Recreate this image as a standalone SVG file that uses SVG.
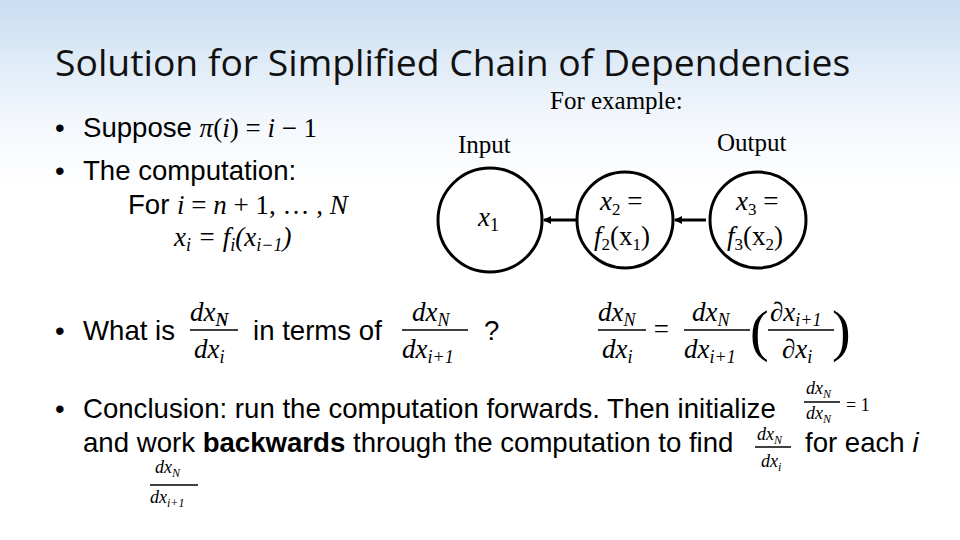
<svg xmlns="http://www.w3.org/2000/svg" width="960" height="540" viewBox="0 0 960 540">
<defs>
<linearGradient id="bg" x1="0" y1="0" x2="0" y2="1">
<stop offset="0" stop-color="#c9def2"/><stop offset="0.22" stop-color="#f3f7fc"/><stop offset="0.35" stop-color="#ffffff"/>
</linearGradient>
<marker id="ah" markerWidth="8" markerHeight="8" refX="7" refY="4" orient="auto" markerUnits="userSpaceOnUse"><path d="M0,0 L8,4 L0,8 z" fill="#000"/></marker>
<style>
.s{font-family:"Liberation Sans",Arial,sans-serif;font-size:27.6px;fill:#000}
.m{font-family:"Liberation Serif","Times New Roman",serif;font-style:italic;font-size:27px;fill:#000}
.r{font-family:"Liberation Serif","Times New Roman",serif;font-size:27px;fill:#000}
.ms{font-family:"Liberation Serif",serif;font-style:italic;font-size:18px}
.c{fill:#fff;stroke:#000;stroke-width:3}
.fl{stroke:#000;stroke-width:1.5}
</style>
</defs>
<rect width="960" height="540" fill="url(#bg)"/>
<text x="55" y="76" style="font-family:'Open Sans','Noto Sans',sans-serif;font-size:37.3px;fill:#111">Solution for Simplified Chain of Dependencies</text>
<text x="550" y="109" class="r" style="font-size:25px">For example:</text>
<text x="458" y="153" class="r" style="font-size:25px">Input</text>
<text x="717" y="151" class="r" style="font-size:25px">Output</text>
<g class="s">
<text x="55" y="137">•</text><text x="83" y="137">Suppose <tspan class="m">π</tspan><tspan class="r">(</tspan><tspan class="m">i</tspan><tspan class="r">) = </tspan><tspan class="m">i</tspan><tspan class="r"> − 1</tspan></text>
<text x="55" y="180">•</text><text x="83" y="180">The computation:</text>
<text x="128" y="214">For <tspan class="m">i</tspan><tspan class="r"> = </tspan><tspan class="m">n</tspan><tspan class="r"> + 1, … , </tspan><tspan class="m">N</tspan></text>
<text x="174" y="246" class="m">x<tspan font-size="18" dy="5">i</tspan><tspan class="r" dy="-5"> = </tspan>f<tspan font-size="18" dy="5">i</tspan><tspan class="r" dy="-5">(x</tspan><tspan font-size="18" dy="5">i−1</tspan><tspan class="r" dy="-5">)</tspan></text>
<text x="55" y="340">•</text><text x="83" y="340">What is</text>
<text x="253" y="340">in terms of</text>
<text x="484" y="340">?</text>
<text x="55" y="418">•</text><text x="83" y="418">Conclusion: run the computation forwards. Then initialize</text>
<text x="83" y="452">and work <tspan font-weight="bold">backwards</tspan> through the computation to find</text>
<text x="805" y="452">for each <tspan font-style="italic">i</tspan></text>
</g>
<g class="m">
<text x="190" y="321">dx<tspan font-size="18" dy="5" font-weight="bold">N</tspan></text>
<line class="fl" x1="190" y1="330" x2="238" y2="330"/>
<text x="194" y="358">dx<tspan font-size="18" dy="5">i</tspan></text>
<text x="412" y="321">dx<tspan font-size="18" dy="5">N</tspan></text>
<line class="fl" x1="402" y1="330" x2="468" y2="330"/>
<text x="402" y="358">dx<tspan font-size="18" dy="5">i+1</tspan></text>
<text x="598" y="321">dx<tspan font-size="18" dy="5">N</tspan></text>
<line class="fl" x1="598" y1="330" x2="646" y2="330"/>
<text x="602" y="358">dx<tspan font-size="18" dy="5">i</tspan></text>
<text x="652" y="338" class="r">=</text>
<text x="692" y="321">dx<tspan font-size="18" dy="5">N</tspan></text>
<line class="fl" x1="684" y1="330" x2="750" y2="330"/>
<text x="684" y="358">dx<tspan font-size="18" dy="5">i+1</tspan></text>
<text x="750" y="350" class="r" style="font-size:56px;font-style:normal">(</text>
<text x="770" y="321">∂x<tspan font-size="18" dy="5">i+1</tspan></text>
<line class="fl" x1="768" y1="330" x2="834" y2="330"/>
<text x="782" y="358">∂x<tspan font-size="18" dy="5">i</tspan></text>
<text x="832" y="350" class="r" style="font-size:56px;font-style:normal">)</text>
</g>
<g class="ms">
<text x="806" y="394">dx<tspan font-size="12" dy="4">N</tspan></text>
<line class="fl" x1="804" y1="402" x2="840" y2="402" stroke-width="1"/>
<text x="806" y="419">dx<tspan font-size="12" dy="4">N</tspan></text>
<text x="846" y="411" font-style="normal">= 1</text>
<text x="757" y="440">dx<tspan font-size="12" dy="4">N</tspan></text>
<line class="fl" x1="755" y1="447" x2="791" y2="447" stroke-width="1"/>
<text x="761" y="467">dx<tspan font-size="12" dy="4">i</tspan></text>
<text x="155" y="473">dx<tspan font-size="12" dy="4">N</tspan></text>
<line class="fl" x1="150" y1="485" x2="198" y2="485" stroke-width="1"/>
<text x="150" y="503">dx<tspan font-size="12" dy="4">i+1</tspan></text>
</g>
<g id="connectors" stroke="#000" stroke-width="3">
<line x1="577" y1="220" x2="544" y2="220" marker-end="url(#ah)"/>
<line x1="706" y1="220" x2="675" y2="220" marker-end="url(#ah)"/>
</g>
<g id="n1"><circle class="c" cx="490" cy="220" r="52"/><text x="478" y="226" class="m">x<tspan font-size="18" dy="5" font-style="normal">1</tspan></text></g>
<g id="n2"><circle class="c" cx="625" cy="220" r="48"/><text x="600" y="210" class="m" font-size="25">x<tspan font-size="17" dy="5" font-style="normal">2</tspan><tspan dy="-5" font-style="normal"> =</tspan></text><text x="594" y="245" class="m" font-size="25">f<tspan font-size="17" dy="5" font-style="normal">2</tspan><tspan dy="-5" font-style="normal">(x</tspan><tspan font-size="17" dy="5" font-style="normal">1</tspan><tspan dy="-5" font-style="normal">)</tspan></text></g>
<g id="n3"><circle class="c" cx="758" cy="220" r="48"/><text x="736" y="210" class="m" font-size="25">x<tspan font-size="17" dy="5" font-style="normal">3</tspan><tspan dy="-5" font-style="normal"> =</tspan></text><text x="727" y="245" class="m" font-size="25">f<tspan font-size="17" dy="5" font-style="normal">3</tspan><tspan dy="-5" font-style="normal">(x</tspan><tspan font-size="17" dy="5" font-style="normal">2</tspan><tspan dy="-5" font-style="normal">)</tspan></text></g>
</svg>
